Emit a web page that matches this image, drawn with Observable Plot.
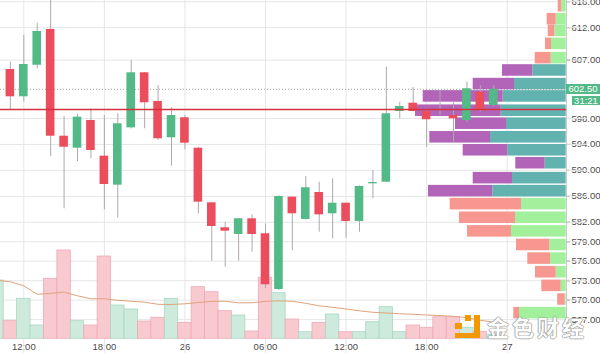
<!DOCTYPE html>
<html><head><meta charset="utf-8">
<script src="https://cdn.jsdelivr.net/npm/d3@7"></script>
<script src="https://cdn.jsdelivr.net/npm/@observablehq/plot@0.6"></script>
<style>
body{margin:0;background:#fff;}
#chart{position:relative;width:600px;height:353px;overflow:hidden;font-family:"Liberation Sans",Arial,sans-serif;background:#fff;}
#chart svg{position:absolute;left:0;top:0;}
.lbl{position:absolute;color:#fff;font-size:9.5px;line-height:10px;text-align:center;}
.wm{position:absolute;font-family:"Noto Sans CJK SC",sans-serif;font-size:22px;font-weight:700;color:#fff;letter-spacing:3px;text-shadow:0 0 1px #777,0 0 1px #777,0 0 1.5px #999;}
.lg{position:absolute;background:#f39800;}
</style></head><body><div id="chart"></div>
<script>
// hourly candles, hours counted from day 25 00:00
const hours = [11,12,13,14,15,16,17,18,19,20,21,22,23,24,25,26,27,28,29,30,31,32,33,34,35,36,37,38,39,40,41,42,43,44,45,46,47];
const open  = [605.55,601.34,606.21,611.72,595.27,593.42,597.69,592.19,587.72,596.56,605.04,600.62,595.02,598.11,593.42,585.0,581.15,580.12,582.54,580.23,571.64,585.87,582.43,586.59,583.31,584.94,582.12,587.93,588.18,599.08,600.36,599.08,599.23,598.46,597.69,602.05,600.0];
const high  = [606.68,610.79,612.69,616.49,598.31,598.61,599.49,598.46,598.72,606.94,605.09,603.08,599.65,598.46,593.53,585.05,582.01,582.58,583.15,581.77,586.05,585.9,589.06,588.18,588.7,584.97,587.6,589.98,605.9,600.51,602.78,599.15,602.31,600.51,603.59,603.08,603.08];
const low   = [599.23,600.51,605.66,592.14,584.08,591.37,591.79,583.93,582.63,596.38,596.41,594.61,590.65,593.17,583.31,576.0,575.08,576.0,577.39,571.8,571.49,577.65,582.35,580.47,579.46,579.55,580.47,585.62,588.13,597.95,599.0,593.57,598.46,594.34,597.38,598.97,599.85];
const close = [601.34,606.32,611.41,595.27,593.57,598.2,593.07,587.82,597.18,605.04,600.42,594.87,598.46,594.19,585.1,581.35,580.63,582.54,580.12,572.37,585.98,583.31,587.32,583.15,584.94,582.12,587.52,588.13,598.72,599.85,599.08,597.8,599.08,597.95,602.58,599.23,602.5];

// volume pane
const volHours = [10,11,12,13,14,15,16,17,18,19,20,21,22,23,24,25,26,27,28,29,30,31,32,33,34,35,36,37,38,39,40,41,42,43,44,45,46,47];
const volume   = [58.3,17.6,40,13.3,60,88.3,17.6,13.3,82.3,33.3,29.3,17.3,21,40,16,51.6,46.6,27.6,23.3,7.3,61,45.6,19.3,6.6,16,24.3,6.6,6.6,16.6,31.6,6.6,13.3,11,21.6,21.6,11,7,4];
const volSide  = ["up","down","up","up","down","down","up","down","down","up","up","down","down","up","down","down","down","down","up","down","down","up","down","up","down","up","down","up","up","up","up","down","down","down","down","up","down","up"];
const volMA    = [58.5,57,53,44.5,45.5,46.6,43,40,40,38.5,37.5,36.6,34.5,34.3,35,36.3,37.5,37.5,36,36,37.5,38,37.5,35.5,33,31.5,29.8,28,26.5,25.8,25,24.5,23.8,23.3,22.5,21,18.5,16.6];

// volume profile (rows top to bottom)
const profilePrice = [615.3,613.3,611.5,609.5,607.3,605.4,603.3,601.4,599.2,597.2,595.1,593.1,591.1,588.8,586.8,584.8,582.7,580.6,578.5,576.4,574.3,572.2,570.1,568.0];
const profileUp    = [4.4,10,11.4,14.7,15,33.4,51.7,63,65,59.7,75.7,58.4,21,53.7,73.4,44.7,50.7,54.7,16.4,15.7,10,5,1,46.7];
const profileDown  = [3.6,9,6.6,6,16,30.3,41.3,80,85.7,51,60.7,44.6,29.4,39.3,64.3,71.3,56,44,33.3,22.7,20.7,19.4,7.5,5.7];
const valueArea = [586, 606.5];

const pocPrice = 599.38;
const lastPrice = 602.5;
const lastLabel = "602.50";
const countdown = "31:21";

const yTicks = [616,612,607,598,594,590,586,582,579,576,573,570,567];
const xTicks = [12,18,24,30,36,42,48];
const xTickLabels = ["12:00","18:00","26","06:00","12:00","18:00","27"];

// ---- build ----
const candles = hours.map((h,i)=>({h, o:open[i], hi:high[i], lo:low[i], c:close[i]}));
const vols = volHours.map((h,i)=>({h, v:volume[i], side:volSide[i], ma:volMA[i]}));
const rows = profilePrice.map((p,i)=>({p, up:profileUp[i], dn:profileDown[i], va: p>=valueArea[0] && p<=valueArea[1]}));

const W=600,H=353,MR=34,MB=15;
const xs = {domain:[12,48], range:[23.3,506.7]};
const ys = {domain:[567,616], range:[319.1,1.2]};
const GREEN="#53b987", RED="#eb4d5c";
const base = {width:W,height:H,marginLeft:0,marginRight:MR,marginTop:0,marginBottom:MB,
  style:{background:"transparent",overflow:"visible",fontSize:"9.5px",fontFamily:"Liberation Sans, Arial, sans-serif",color:"#4a4a4a"}};

const chart = document.getElementById("chart");

// layer 1: grid + axes
const labelMap = new Map(xTicks.map((t,i)=>[t,xTickLabels[i]]));
const gridPlot = Plot.plot({...base,
  x:{...xs, axis:"bottom", ticks:xTicks, tickFormat:d=>labelMap.get(d), tickSize:0, tickPadding:5, label:null},
  y:{...ys, axis:"right", ticks:yTicks, tickFormat:d=>d.toFixed(2), tickSize:3, tickPadding:2, label:null},
  marks:[
    Plot.ruleY(yTicks,{stroke:"#e6e6e6", x1:6, x2:54}),
    Plot.ruleX(xTicks,{stroke:"#e6e6e6", y1:560, y2:620})
  ]});
chart.appendChild(gridPlot);

// layer 2: volume
const volPlot = Plot.plot({...base,
  x:{...xs, axis:null},
  y:{domain:[0,100], range:[338.3,238.3], axis:null},
  color:{type:"identity"},
  marks:[
    Plot.rect(vols,{x1:d=>d.h-0.5, x2:d=>d.h+0.5, y1:0, y2:"v",
      fill:d=>d.side==="up"?"#cdeadc":"#f9c9d0", stroke:d=>d.side==="up"?"#a9d8c2":"#eeaab6", strokeWidth:0.8}),
    Plot.line(vols,{x:"h", y:"ma", stroke:"#dfa37c", strokeWidth:1})
  ]});
chart.appendChild(volPlot);

// layer 3: volume profile
const profPlot = Plot.plot({...base,
  x:{domain:[0,100], range:[565.7,465.7], axis:null},
  y:{...ys, axis:null},
  color:{type:"identity"},
  marks:[
    Plot.rect(rows,{y1:d=>d.p-0.89, y2:d=>d.p+0.89, x1:0, x2:"up", fill:d=>d.va?"#62b2b0":"#a2f09c"}),
    Plot.rect(rows,{y1:d=>d.p-0.89, y2:d=>d.p+0.89, x1:"up", x2:d=>d.up+d.dn, fill:d=>d.va?"#b264b8":"#f7978f"})
  ]});
chart.appendChild(profPlot);

// layer 4: candles and price lines
const candlePlot = Plot.plot({...base,
  x:{...xs, axis:null},
  y:{...ys, axis:null},
  color:{type:"identity"},
  marks:[
    Plot.ruleY([lastPrice],{stroke:"#8a8a8a", strokeDasharray:"1,2", strokeWidth:0.8}),
    Plot.ruleX(candles,{x:"h", y1:"lo", y2:"hi", stroke:"#b0a8aa", strokeWidth:1}),
    Plot.rect(candles,{x1:d=>d.h-0.32, x2:d=>d.h+0.32, y1:"o", y2:d=>Math.abs(d.c-d.o)<0.15?d.o+0.15:d.c,
      fill:d=>d.c>=d.o?GREEN:RED}),
    Plot.ruleY([pocPrice],{stroke:"#d4303e", strokeWidth:1.6})
  ]});
chart.appendChild(candlePlot);

// axis border
const ax = document.createElement("div");
ax.style.cssText="position:absolute;left:565.5px;top:0;width:1px;height:338px;background:#c8c8c8;";
chart.appendChild(ax);

// price labels positioned through the scale
const sy = candlePlot.scale("y");
const yp = sy.apply(lastPrice);
const l1 = document.createElement("div");
l1.className="lbl"; l1.textContent=lastLabel;
l1.style.cssText=`left:566px;top:${yp-5}px;width:34px;height:10px;background:${GREEN};`;
chart.appendChild(l1);
const l2 = document.createElement("div");
l2.className="lbl"; l2.textContent=countdown;
l2.style.cssText=`left:572px;top:${yp+7}px;width:28px;height:9px;line-height:9px;background:${GREEN};`;
chart.appendChild(l2);

// watermark
[[465,315,6,6],[474,315,6,23],[455,333,25,5],[455,323,7,6]].forEach(([l,t,w,h])=>{
  const d=document.createElement("div"); d.className="lg";
  d.style.cssText=`left:${l}px;top:${t}px;width:${w}px;height:${h}px;`; chart.appendChild(d);});
const wm=document.createElement("div"); wm.className="wm"; wm.textContent="金色财经";
wm.style.cssText="left:487px;top:310px;"; chart.appendChild(wm);
</script></body></html>
